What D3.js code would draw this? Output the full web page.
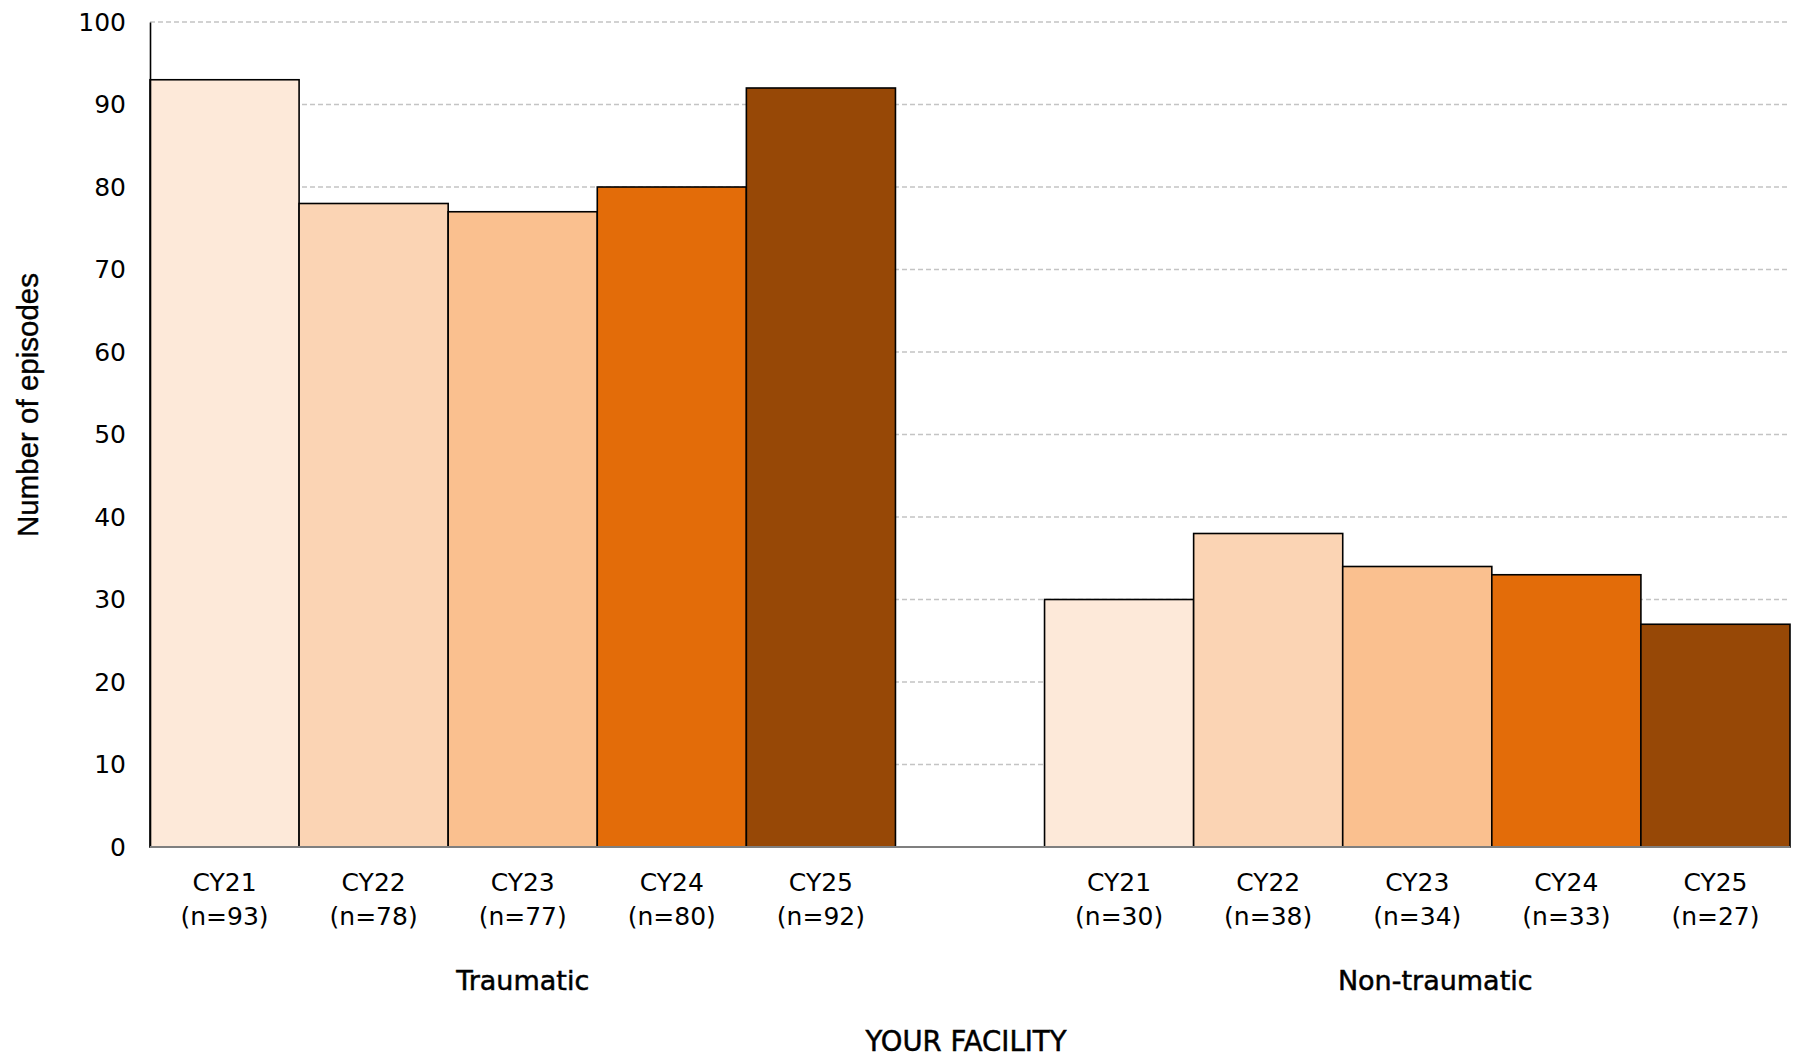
<!DOCTYPE html>
<html>
<head>
<meta charset="utf-8">
<script src="https://cdn.jsdelivr.net/npm/d3@7"></script>
<style>
  html, body { margin: 0; padding: 0; background: #fff; }
  svg { display: block; }
  .tick-label, .cat-label, .group-label, .facility-label {
    font-family: "Century Gothic", "DejaVu Sans", sans-serif;
    fill: #000;
  }
</style>
</head>
<body>
<script>
// Episode counts by calendar year, split by cause
const years = ["CY21", "CY22", "CY23", "CY24", "CY25"];
const groups = ["Traumatic", "Non-traumatic"];
const traumatic = [93, 78, 77, 80, 92];
const nonTraumatic = [30, 38, 34, 33, 27];
const yTicks = [0, 10, 20, 30, 40, 50, 60, 70, 80, 90, 100];
const yearColors = ["#FDE9D9", "#FBD4B4", "#FAC08F", "#E36C09", "#974806"];

const W = 1797, H = 1061;
const margin = { left: 150, right: 7, top: 22, bottom: 214 };
const plotW = W - margin.left - margin.right;
const plotH = H - margin.top - margin.bottom;

// Category slots: five years, an empty spacer slot, then five years
const slots = [];
groups.forEach((g, gi) => {
  const vals = gi === 0 ? traumatic : nonTraumatic;
  years.forEach((yr, i) => slots.push({ key: g + "|" + yr, group: g, year: yr, idx: i, value: vals[i] }));
  if (gi === 0) slots.push({ key: "spacer", spacer: true });
});

const x = d3.scaleBand().domain(slots.map(d => d.key)).range([0, plotW]).padding(0);
const y = d3.scaleLinear().domain([0, 100]).range([plotH, 0]);

const svg = d3.select("body").append("svg").attr("width", W).attr("height", H);
const g = svg.append("g").attr("transform", `translate(${margin.left},${margin.top})`);

// Dashed horizontal gridlines
g.append("g").selectAll("line")
  .data(yTicks.filter(t => t > 0))
  .join("line")
  .attr("x1", 0).attr("x2", plotW)
  .attr("y1", d => y(d)).attr("y2", d => y(d))
  .attr("stroke", "#c4c4c4").attr("stroke-width", 1.3)
  .attr("stroke-dasharray", "5,3");

// Bars
const barData = slots.filter(d => !d.spacer);
g.append("g").selectAll("rect")
  .data(barData)
  .join("rect")
  .attr("x", d => x(d.key))
  .attr("y", d => y(d.value))
  .attr("width", x.bandwidth())
  .attr("height", d => y(0) - y(d.value))
  .attr("fill", d => yearColors[d.idx])
  .attr("stroke", "#000").attr("stroke-width", 1.6);

// Y axis
const yAxis = d3.axisLeft(y).tickValues(yTicks).tickSize(0).tickPadding(24);
const yg = g.append("g").call(yAxis);
yg.select(".domain").attr("stroke", "#000").attr("stroke-width", 1.6);
yg.selectAll("text").attr("class", "tick-label").attr("font-size", 25).attr("fill", "#000");

// X axis baseline
g.append("line")
  .attr("x1", 0).attr("x2", plotW)
  .attr("y1", y(0)).attr("y2", y(0))
  .attr("stroke", "#7f7f7f").attr("stroke-width", 2.2);

// Year and count labels under each bar
const cat = g.append("g").selectAll("g")
  .data(barData)
  .join("g")
  .attr("transform", d => `translate(${x(d.key) + x.bandwidth() / 2},${plotH})`);
cat.append("text").attr("class", "cat-label")
  .attr("y", 44).attr("text-anchor", "middle").attr("font-size", 25)
  .text(d => d.year);
cat.append("text").attr("class", "cat-label")
  .attr("y", 78).attr("text-anchor", "middle").attr("font-size", 25)
  .text(d => `(n=${d.value})`);

// Group labels centred under each set of five bars
groups.forEach(grp => {
  const members = barData.filter(d => d.group === grp);
  const x0 = x(members[0].key), x1 = x(members[members.length - 1].key) + x.bandwidth();
  g.append("text").attr("class", "group-label")
    .attr("x", (x0 + x1) / 2 + (grp === "Non-traumatic" ? 18 : 0))
    .attr("y", plotH + 143)
    .attr("text-anchor", "middle").attr("font-size", 27)
    .attr("stroke", "#000").attr("stroke-width", 0.5)
    .text(grp);
});

// Overall axis caption
g.append("text").attr("class", "facility-label")
  .attr("x", plotW / 2 - 4).attr("y", plotH + 204)
  .attr("text-anchor", "middle").attr("font-size", 27.5)
  .attr("stroke", "#000").attr("stroke-width", 0.5)
  .text("YOUR FACILITY");

// Y axis title
svg.append("text")
  .attr("transform", `translate(38,${margin.top + 383}) rotate(-90)`)
  .attr("text-anchor", "middle")
  .attr("font-family", "'Liberation Sans', Arial, sans-serif")
  .attr("font-size", 29.5)
  .attr("fill", "#000")
  .attr("stroke", "#000").attr("stroke-width", 0.4)
  .text("Number of episodes");
</script>
</body>
</html>
